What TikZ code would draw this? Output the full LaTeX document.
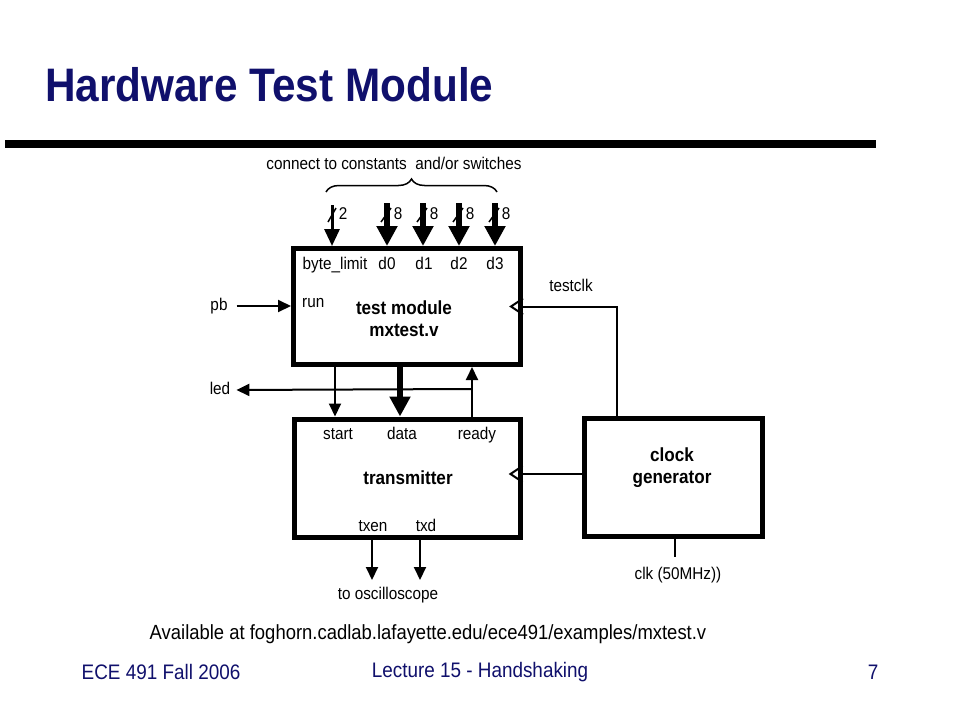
\documentclass[tikz,border=0pt]{standalone}
\usepackage{fontspec}
\setmainfont[FakeStretch=0.9]{Liberation Sans}
\usetikzlibrary{arrows.meta,decorations.pathreplacing}
\definecolor{slidenavy}{HTML}{10106C}
\tikzset{
  modbox/.style={draw, line width=5pt, inner sep=0pt},
  modname/.style={align=center, inner sep=0pt, font=\fontsize{19}{22}\selectfont\bfseries},
  port/.style={inner sep=0pt, text height=12pt, text depth=3pt, font=\fontsize{17}{20}\selectfont},
  footer/.style={inner sep=0pt, text=slidenavy, font=\fontsize{21}{24}\selectfont},
  wire/.style={line width=2pt},
  sig/.style={wire, -{Triangle[length=13pt,width=12pt]}},
  bus/.style={line width=6pt, -{Triangle[length=20pt,width=20pt]}},
  thinbus/.style={line width=3pt, -{Triangle[length=17pt,width=15pt]}},
  slash/.style={line width=1.5pt},
  clkin/.style={line width=2pt},
}

\begin{document}
\begin{tikzpicture}[x=1pt, y=-1pt]
    \useasboundingbox[fill=white] (0,0) rectangle (960,720);
    % title
    \node[anchor=base west, inner sep=0pt, text=slidenavy,
          font=\fontsize{47}{50}\selectfont\bfseries] (title) at (45,101) {Hardware Test Module};
    \draw[line width=8pt] (5,144) -- (876,144);

    % blocks
    \node[modbox, minimum width=227pt, minimum height=116pt] (tm) at (407,306.5) {};
    \node[modbox, minimum width=226pt, minimum height=118pt] (tr) at (407,478) {};
    \node[modbox, minimum width=178pt, minimum height=118pt] (cg) at (673,477.5) {};
    \node[modname] (tmname) at (404,319) {test module\\mxtest.v};
    \node[modname] (trname) at (408,478) {transmitter};
    \node[modname] (cgname) at (672,468) {clock\\generator};

    % ports
    \node[port] (pbyte) at (335,265) {byte\_limit};
    \node[port] (pd0) at (387,265) {d0};
    \node[port] (pd1) at (424,265) {d1};
    \node[port] (pd2) at (459,265) {d2};
    \node[port] (pd3) at (495,265) {d3};
    \node[port, anchor=west] (prun) at (302,303) {run};
    \node[port] (pstart) at (338,435) {start};
    \node[port] (pdata) at (402,435) {data};
    \node[port] (pready) at (477,435) {ready};
    \node[port] (ptxen) at (373,527) {txen};
    \node[port] (ptxd) at (426,527) {txd};

    % outside labels
    \node[port] (consts) at (394,165) {connect to constants\ \ and/or switches};
    \node[port] (pb) at (219,306) {pb};
    \node[port] (led) at (220,390) {led};
    \node[port] (testclk) at (571,287) {testclk};
    \node[port] (scope) at (388,595) {to oscilloscope};
    \node[port] (clk) at (678,575) {clk (50MHz))};
    \node[port, font=\fontsize{20.5}{23}\selectfont] (url) at (428,635)
        {Available at foghorn.cadlab.lafayette.edu/ece491/examples/mxtest.v};

    % footer
    \node[footer] (course) at (161,672) {ECE 491 Fall 2006};
    \node[footer] (lecture) at (480,672) {Lecture 15 - Handshaking};
    \node[footer] (page) at (873,672) {7};

    % inputs from switches
    \coordinate (brl) at (326,192);
    \coordinate (brr) at (497,192);
    \draw[decorate, decoration={brace, amplitude=13pt}, line width=1.5pt] (brl) -- (brr);
    \coordinate (inbyte) at (332,205);
    \draw[thinbus] (inbyte) -- (inbyte |- tm.north);
    \draw[slash] (328,222) -- (336,208);
    \node[port] (wbyte) at (343,215) {2};
    \foreach \d/\x in {0/387,1/423,2/459,3/495} {
      \coordinate (in\d) at (\x,203);
      \draw[bus] (in\d) -- (in\d |- tm.north);
      \draw[slash] (\x-6,222) -- (\x+4,208);
      \node[port] (w\d) at (\x+11,215) {8};
    }

    % handshake between the blocks
    \coordinate (xstart) at (335,0);
    \coordinate (xdata) at (400,0);
    \coordinate (xready) at (472,0);
    \coordinate (ledtap) at (472,389);
    \draw[sig] (pb.east) -- (tm.west |- pb) [shorten <=9pt];
    \draw[sig] (xstart |- tm.south) -- (xstart |- tr.north);
    \draw[bus] (xdata |- tm.south) -- (xdata |- tr.north);
    \draw[sig] (xready |- tr.north) -- (xready |- tm.south);
    \draw[sig, shorten >=6pt] (ledtap) -- (led.east);

    % clocks
    \coordinate (clkx) at (617,0);
    \coordinate (trclk) at ([yshift=4pt]tr.east);
    \draw[wire] (tm.east) -| (clkx |- cg.north);
    \draw[wire] (trclk) -- (cg.west |- trclk);
    \draw[clkin] ([yshift=8pt]tm.east) -- ++(-12,8) -- ++(12,8);
    \draw[clkin] ([yshift=8pt]trclk) -- ++(-12,8) -- ++(12,8);
    \coordinate (clkend) at (675,557);
    \draw[wire] (clkend |- cg.south) -- (clkend);

    % outputs to the scope
    \coordinate (xtxen) at (372,580);
    \coordinate (xtxd) at (420,580);
    \draw[sig] (xtxen |- tr.south) -- (xtxen);
    \draw[sig] (xtxd |- tr.south) -- (xtxd);
  \end{tikzpicture}
\end{document}
